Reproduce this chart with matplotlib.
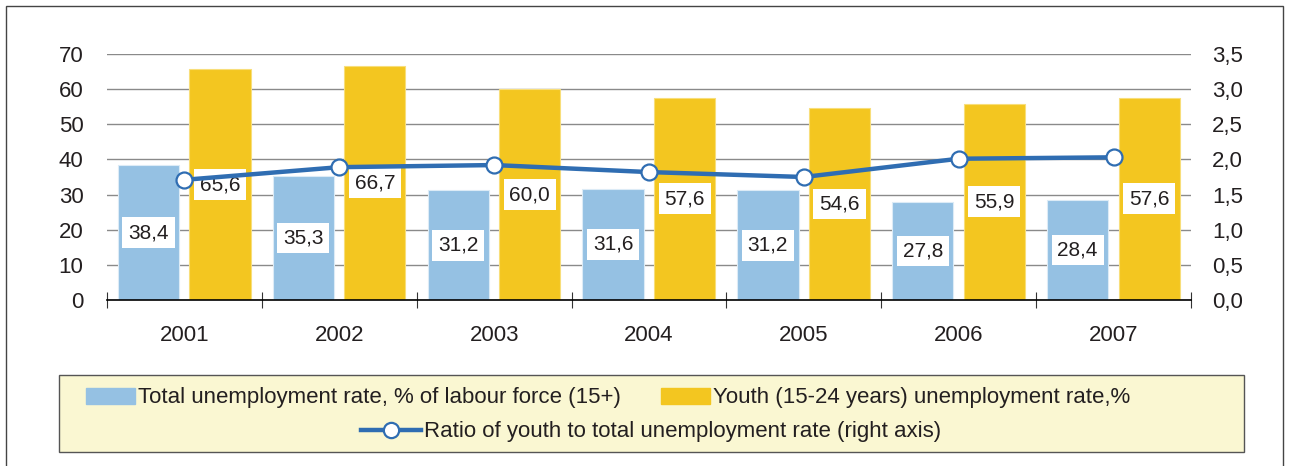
import matplotlib
matplotlib.use("Agg")
import matplotlib.pyplot as plt
import numpy as np
from matplotlib.patches import Rectangle, Patch
from matplotlib.lines import Line2D
from matplotlib.ticker import FuncFormatter, FixedLocator

years = ["2001", "2002", "2003", "2004", "2005", "2006", "2007"]
total_rate = [38.4, 35.3, 31.2, 31.6, 31.2, 27.8, 28.4]
youth_rate = [65.6, 66.7, 60.0, 57.6, 54.6, 55.9, 57.6]
ratio = [1.71, 1.89, 1.92, 1.82, 1.75, 2.01, 2.03]

blue = "#95C1E3"
yellow = "#F3C620"
line_col = "#2F6DB2"
txt_col = "#231F20"
fs = 16

plt.rcParams['font.family'] = ['Liberation Sans', 'DejaVu Sans']

fig = plt.figure(figsize=(12.89, 4.66), dpi=100)
ax = fig.add_axes([107 / 1289, 1 - 300 / 466, (1191 - 107) / 1289, (300 - 54) / 466])
ax2 = ax.twinx()

x = np.arange(len(years))
bw = 0.395
ax.bar(x - 0.232, total_rate, bw, color=blue, edgecolor="#DCEBF6", linewidth=0.8, zorder=2)
ax.bar(x + 0.23, youth_rate, bw, color=yellow, edgecolor="#F8DE7A", linewidth=0.8, zorder=2)

box = dict(boxstyle="square,pad=0.28", fc="white", ec="none")
for i in range(len(years)):
    ax.text(x[i] - 0.232, total_rate[i] / 2, f"{total_rate[i]:.1f}".replace(".", ","),
            ha="center", va="center", fontsize=15, color=txt_col, bbox=box, zorder=6)
    ax.text(x[i] + 0.23, youth_rate[i] / 2, f"{youth_rate[i]:.1f}".replace(".", ","),
            ha="center", va="center", fontsize=15, color=txt_col, bbox=box, zorder=6)

ax2.plot(x, ratio, color=line_col, lw=3.2, marker="o", ms=11.5, mfc="white",
         mec=line_col, mew=1.6, zorder=5, clip_on=False)

ax.set_xlim(-0.5, 6.5)
ax.set_ylim(0, 70)
ax2.set_ylim(0, 3.5)
ax.set_yticks(range(0, 71, 10))
ax2.set_yticks(np.arange(0, 3.51, 0.5))
ax2.yaxis.set_major_formatter(FuncFormatter(lambda v, p: f"{v:.1f}".replace(".", ",")))

ax.set_xticks(x)
ax.set_xticklabels(years)
ax.xaxis.set_minor_locator(FixedLocator(np.arange(-0.5, 7, 1)))
ax.tick_params(axis="x", which="major", length=0, pad=18, labelsize=fs, labelcolor=txt_col)
ax.tick_params(axis="x", which="minor", length=12, direction="inout", width=0.8, color="#333333")
ax.tick_params(axis="y", length=0, pad=17, labelsize=fs, labelcolor=txt_col)
ax2.tick_params(axis="y", length=0, pad=15, labelsize=fs, labelcolor=txt_col)

ax.set_zorder(ax2.get_zorder() - 1)
ax.patch.set_visible(False)
for a in (ax, ax2):
    for s in ("top", "left", "right"):
        a.spines[s].set_visible(False)
ax2.spines["bottom"].set_visible(False)
ax.spines["bottom"].set_color("black")
ax.spines["bottom"].set_linewidth(1.2)
ax.spines["bottom"].set_zorder(4)

ax.yaxis.grid(True, color="#8A8A8A", linewidth=1.0, zorder=0)
ax.set_axisbelow(True)

# outer frame
fig.patches.append(Rectangle((6 / 1289, -0.05), (1283 - 6) / 1289, 1 - 6 / 466 + 0.05,
                             transform=fig.transFigure, fill=False, ec="#444444", lw=1.0))
# legend background
fig.patches.append(Rectangle((59 / 1289, 1 - 452 / 466), (1244 - 59) / 1289, (452 - 375) / 466,
                             transform=fig.transFigure, fc="#FAF7D2", ec="#555555", lw=1.0,
                             zorder=0))

h1 = [Patch(color=blue), Patch(color=yellow)]
l1 = ["Total unemployment rate, % of labour force (15+)", "Youth (15-24 years) unemployment rate,%"]
leg1 = fig.legend(h1, l1, ncol=2, loc="center", bbox_to_anchor=(608 / 1289, 1 - 398 / 466),
                  frameon=False, fontsize=fs, handlelength=2.2, handleheight=0.75,
                  handletextpad=0.15, columnspacing=1.8, labelcolor=txt_col)
h2 = [Line2D([], [], color=line_col, lw=3.2, marker="o", ms=11, mfc="white", mec=line_col, mew=1.6)]
l2 = ["Ratio of youth to total unemployment rate (right axis)"]
leg2 = fig.legend(h2, l2, loc="center", bbox_to_anchor=(651 / 1289, 1 - 432 / 466),
                  frameon=False, fontsize=fs, handlelength=2.7, handletextpad=0.15,
                  labelcolor=txt_col)

fig.savefig("out.png", dpi=100)
